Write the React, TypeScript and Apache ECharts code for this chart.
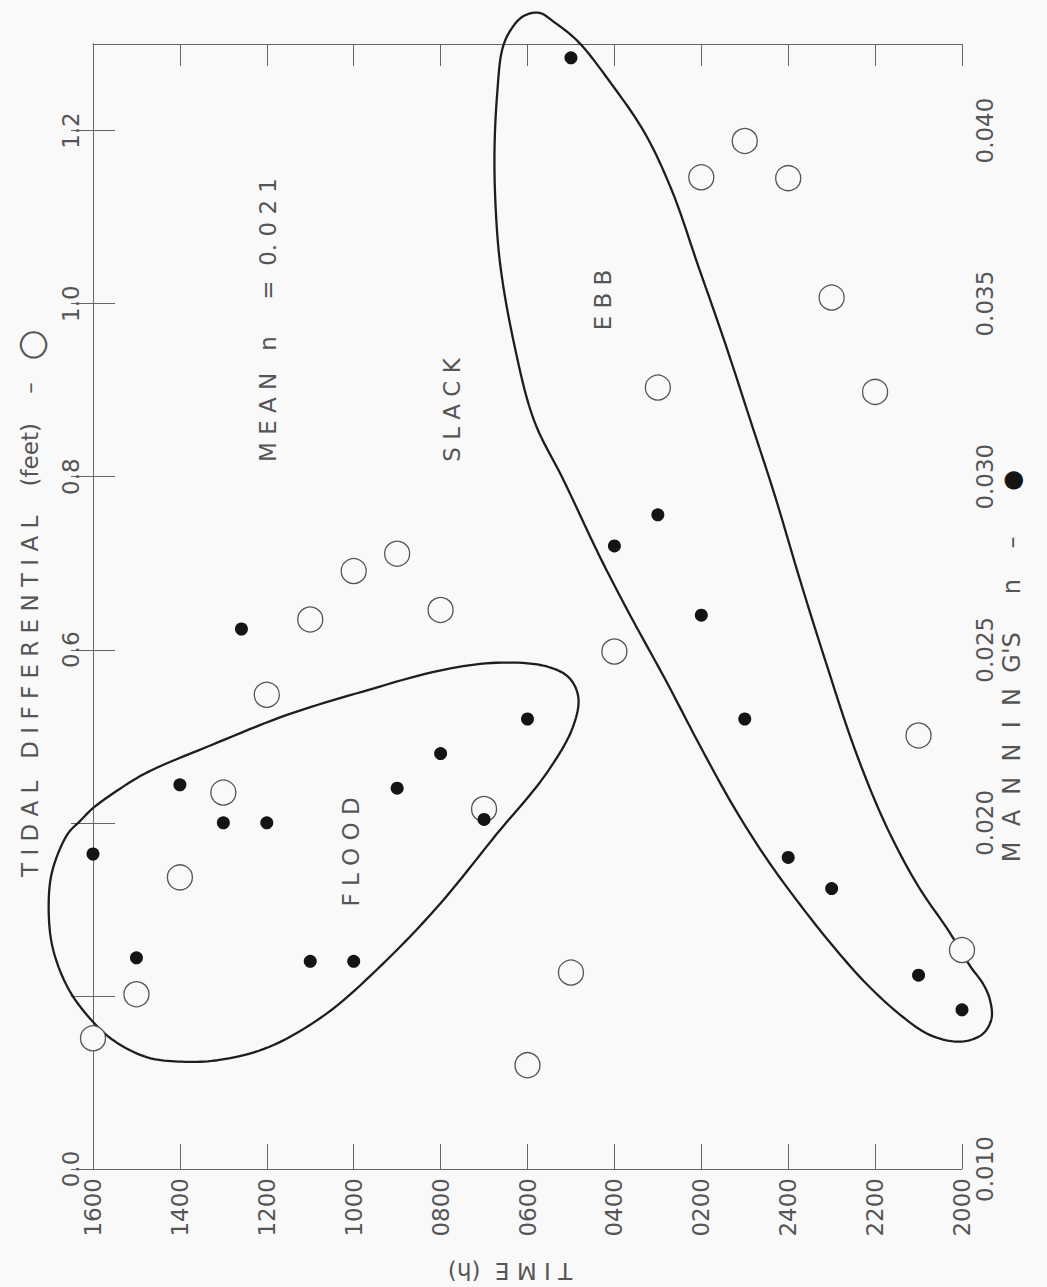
import React, { useEffect, useRef } from 'react';
import * as echarts from 'echarts';

// ---- data ----
const timeTickLabels = ['1600', '1400', '1200', '1000', '0800', '0600', '0400', '0200', '2400', '2200', '2000'];
const tidalTickLabels = ['0.0', '0.6', '0.8', '1.0', '1.2'];
const manningTickLabels = ['0.010', '0.020', '0.025', '0.030', '0.035', '0.040'];

const circleTimes = ['1600', '1500', '1400', '1300', '1200', '1100', '1000', '0900', '0800', '0700', '0600',
  '0500', '0400', '0300', '0200', '0100', '2400', '2300', '2200', '2100', '2000'];
const tidalDifferential = [0.151, 0.202, 0.337, 0.435, 0.548, 0.635, 0.691, 0.711, 0.646, 0.416, 0.12,
  0.227, 0.598, 0.903, 1.146, 1.188, 1.145, 1.007, 0.898, 0.501, 0.253];

const dotTimes = ['1600', '1500', '1400', '1300', '1235', '1200', '1100', '1000', '0900', '0800', '0700', '0600',
  '0500', '0400', '0300', '0200', '0100', '2400', '2300', '2100', '2000'];
const manningN = [0.0191, 0.0161, 0.0211, 0.02, 0.0256, 0.02, 0.016, 0.016, 0.021, 0.022, 0.0201, 0.023,
  0.0421, 0.028, 0.0289, 0.026, 0.023, 0.019, 0.0181, 0.0156, 0.0146];

// enclosing curves, in (hours after 1600, tidal differential) coordinates
const floodLoop = [
  [0, 0.417], [0.55, 0.437], [1.235, 0.458], [2.73, 0.49], [4.48, 0.525], [6.23, 0.552], [7.98, 0.576],
  [9.29, 0.585], [10.42, 0.581], [10.95, 0.568], [11.17, 0.545], [11.04, 0.51], [10.42, 0.456],
  [9.29, 0.387], [7.98, 0.306], [6.67, 0.237], [5.36, 0.179], [4.05, 0.141], [2.91, 0.126], [2.04, 0.124],
  [1.25, 0.129], [0.46, 0.149], [-0.106, 0.176], [-0.585, 0.21], [-0.934, 0.257], [-1.02, 0.306],
  [-0.934, 0.345], [-0.585, 0.387], [-0.3, 0.402],
];
const ebbLoop = [
  [10.27, 1.336], [10.62, 1.325], [11.16, 1.303], [11.93, 1.254], [12.7, 1.197], [13.32, 1.131],
  [13.94, 1.042], [14.55, 0.954], [15.13, 0.865], [15.7, 0.777], [16.27, 0.681], [16.87, 0.585],
  [17.54, 0.484], [18.25, 0.397], [18.99, 0.327], [19.7, 0.2746], [20.18, 0.235], [20.49, 0.2135],
  [20.64, 0.196], [20.68, 0.174], [20.49, 0.1566], [20.11, 0.148], [19.72, 0.148], [19.19, 0.1566],
  [18.57, 0.1785], [17.81, 0.2135], [17.04, 0.257], [16.28, 0.305], [15.51, 0.358], [14.74, 0.419],
  [13.97, 0.489], [13.2, 0.563], [12.34, 0.642], [11.67, 0.707], [10.85, 0.794], [10.15, 0.865],
  [9.69, 0.954], [9.38, 1.042], [9.27, 1.108], [9.24, 1.175], [9.3, 1.241], [9.42, 1.294], [9.61, 1.316],
  [9.9, 1.332],
];

// ---- helpers ----
const toOffset = (s: string) => {
  const h = Number(s.slice(0, 2)) + Number(s.slice(2)) / 60;
  return (16 - h + 24) % 24;
};

// closed centripetal Catmull-Rom spline through pixel points
function closedSpline(pts: number[][], segs = 10): number[][] {
  const n = pts.length;
  const out: number[][] = [];
  const knot = (a: number[], b: number[]) => Math.max(Math.sqrt(Math.hypot(b[0] - a[0], b[1] - a[1])), 1e-4);
  const lerp = (a: number[], b: number[], ta: number, tb: number, t: number) => {
    const u = (t - ta) / (tb - ta);
    return [a[0] + (b[0] - a[0]) * u, a[1] + (b[1] - a[1]) * u];
  };
  for (let i = 0; i < n; i++) {
    const p0 = pts[(i - 1 + n) % n];
    const p1 = pts[i];
    const p2 = pts[(i + 1) % n];
    const p3 = pts[(i + 2) % n];
    const t0 = 0;
    const t1 = t0 + knot(p0, p1);
    const t2 = t1 + knot(p1, p2);
    const t3 = t2 + knot(p2, p3);
    for (let s = 0; s < segs; s++) {
      const t = t1 + ((t2 - t1) * s) / segs;
      const a1 = lerp(p0, p1, t0, t1, t);
      const a2 = lerp(p1, p2, t1, t2, t);
      const a3 = lerp(p2, p3, t2, t3, t);
      const b1 = lerp(a1, a2, t0, t2, t);
      const b2 = lerp(a2, a3, t1, t3, t);
      out.push(lerp(b1, b2, t1, t2, t));
    }
  }
  return out;
}

const FONT = 'DejaVu Sans';
const TXT = '#555555';
const AX = '#666666';
const BG = '#f9f9f9';

function buildOption(): any {
  const circles = circleTimes.map((t, k) => [toOffset(t), tidalDifferential[k]]);
  const dots = dotTimes.map((t, k) => [toOffset(t), manningN[k]]);

  const labelStyle = { fontFamily: FONT, fontWeight: 400, fontSize: 23, color: TXT };
  const line = { show: true, lineStyle: { color: AX, width: 1 } };

  const gText = (text: string, x: number, y: number, rotation: number, fontSize: number, rich?: any) => ({
    type: 'text',
    x,
    y,
    rotation,
    z: 10,
    style: {
      text,
      fontFamily: FONT,
      fontWeight: 400,
      fontSize,
      fill: TXT,
      align: 'center',
      verticalAlign: 'middle',
      rich,
    },
  });

  return {
    animation: false,
    backgroundColor: BG,
    grid: { left: 93, right: 85, top: 44, bottom: 118, show: false },
    xAxis: [
      {
        type: 'value', position: 'bottom', min: 0, max: 20, interval: 2,
        axisLine: line,
        axisTick: { show: true, inside: true, length: 25, lineStyle: { color: AX } },
        axisLabel: {
          ...labelStyle, rotate: 90, margin: 9,
          formatter: (v: number) => timeTickLabels[Math.round(v / 2)] ?? '',
        },
        splitLine: { show: false },
      },
      {
        type: 'value', position: 'top', min: 0, max: 20, interval: 2,
        axisLine: line,
        axisTick: { show: true, inside: true, length: 22, lineStyle: { color: AX } },
        axisLabel: { show: false },
        splitLine: { show: false },
      },
    ],
    yAxis: [
      {
        type: 'value', position: 'left', min: 0, max: 1.3, interval: 0.2,
        axisLine: line,
        axisTick: { show: true, inside: true, length: 22, lineStyle: { color: AX } },
        axisLabel: {
          ...labelStyle, rotate: 90, margin: 11, showMaxLabel: false,
          formatter: (v: number) => {
            const s = v.toFixed(1);
            return tidalTickLabels.includes(s) ? s : '';
          },
        },
        splitLine: { show: false },
      },
      {
        type: 'value', position: 'right', min: 0.01, max: 0.0425, interval: 0.005,
        axisLine: line,
        axisTick: { show: true, inside: true, length: 22, lineStyle: { color: AX } },
        axisLabel: {
          ...labelStyle, rotate: 90, margin: 11, showMaxLabel: false,
          formatter: (v: number) => {
            const s = v.toFixed(3);
            return manningTickLabels.includes(s) ? s : '';
          },
        },
        splitLine: { show: false },
      },
    ],
    series: [
      {
        type: 'custom',
        coordinateSystem: 'cartesian2d',
        xAxisIndex: 0,
        yAxisIndex: 0,
        data: [[0, 0]],
        silent: true,
        clip: false,
        z: 3,
        renderItem: (_p: any, api: any) => ({
          type: 'group',
          children: [floodLoop, ebbLoop].map((loop) => ({
            type: 'polygon',
            shape: { points: closedSpline(loop.map((p) => api.coord(p))) },
            style: { fill: 'none', stroke: '#1e1e1e', lineWidth: 2.3, lineJoin: 'round' },
          })),
        }),
      },
      {
        name: 'Tidal differential',
        type: 'scatter',
        xAxisIndex: 0,
        yAxisIndex: 0,
        data: circles,
        symbol: 'circle',
        symbolSize: 25,
        z: 4,
        itemStyle: { color: BG, borderColor: '#555555', borderWidth: 1.3, opacity: 1 },
      },
      {
        name: "Manning's n",
        type: 'scatter',
        xAxisIndex: 0,
        yAxisIndex: 1,
        data: dots,
        symbol: 'circle',
        symbolSize: 13,
        z: 5,
        itemStyle: { color: '#141414', opacity: 1 },
      },
    ],
    graphic: [
      gText('T I D A L   D I F F E R E N T I A L    (feet)    –   {c|○}', 30, 603, Math.PI / 2, 23,
        { c: { fontSize: 36, fontFamily: FONT, fill: TXT } }),
      gText("M  A  N  N  I  N  G'S     n    –      {d|●}", 1012, 666, Math.PI / 2, 24,
        { d: { fontSize: 24, fontFamily: FONT, fill: '#151515' } }),
      gText('M E A N   n     =  0. 0 2 1', 268, 320, Math.PI / 2, 23),
      gText('S L A C K', 452, 410, Math.PI / 2, 23),
      gText('E B B', 603, 300, Math.PI / 2, 23),
      gText('F L O O D', 351, 852, Math.PI / 2, 23),
      gText('T I M E  (h)', 510, 1271, Math.PI, 23),
    ],
  };
}

export default function App() {
  const ref = useRef<HTMLDivElement>(null);
  useEffect(() => {
    if (!ref.current) return;
    const chart = echarts.init(ref.current, null, { renderer: 'svg' });
    chart.setOption(buildOption());
    return () => chart.dispose();
  }, []);
  return (
    <div
      ref={ref}
      style={{ position: 'absolute', left: 0, top: 0, width: 1047, height: 1287, background: BG }}
    />
  );
}
